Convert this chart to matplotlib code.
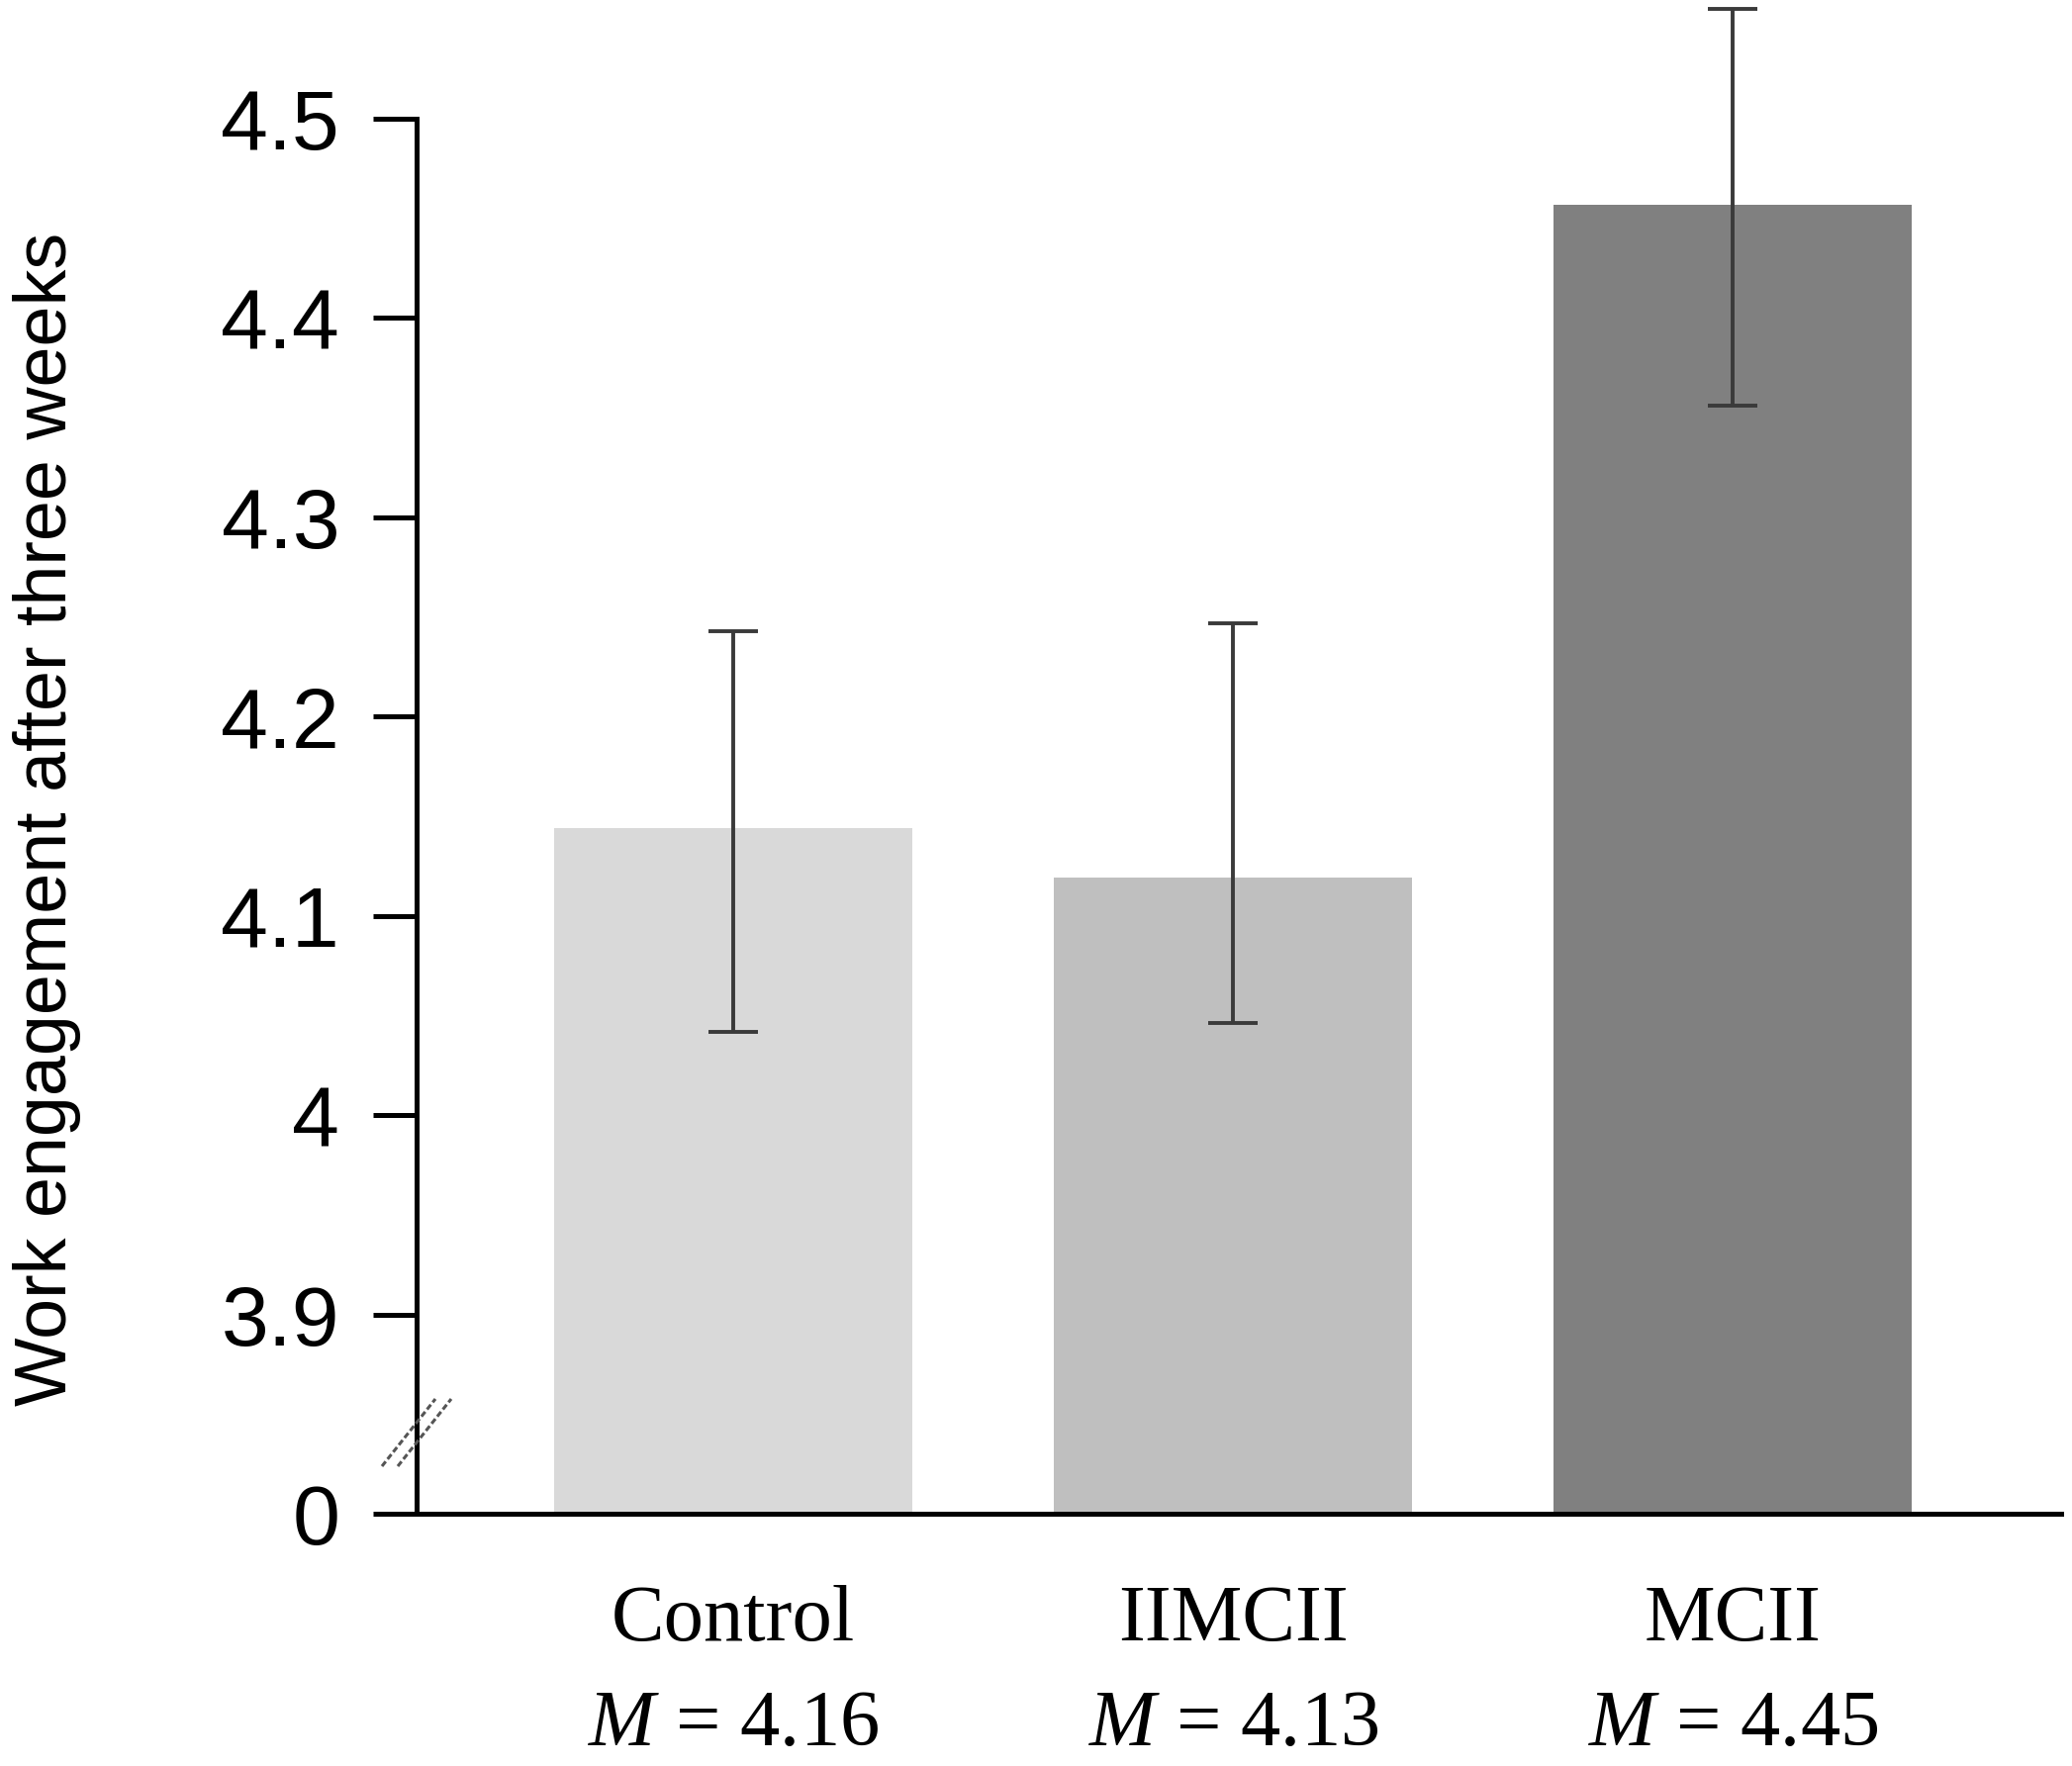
import matplotlib
matplotlib.use('Agg')
import matplotlib.pyplot as plt
import numpy as np

# data
groups = ['Control', 'IIMCII', 'MCII']
mean_labels = ['4.16', '4.13', '4.45']
bar_heights = [4.144, 4.119, 4.457]
err_low = [4.042, 4.046, 4.356]
err_high = [4.243, 4.247, 4.555]
bar_colors = ['#d9d9d9', '#bfbfbf', '#808080']
ytick_vals = [3.8, 3.9, 4.0, 4.1, 4.2, 4.3, 4.4, 4.5]
ytick_labels = ['0', '3.9', '4', '4.1', '4.2', '4.3', '4.4', '4.5']

plt.rcParams['mathtext.fontset'] = 'custom'
plt.rcParams['mathtext.rm'] = 'Liberation Serif'
plt.rcParams['mathtext.it'] = 'Liberation Serif:italic'

sans = ['Liberation Sans', 'DejaVu Sans']
serif = ['Liberation Serif', 'DejaVu Serif']

W, H = 2094, 1785
fig = plt.figure(figsize=(W / 100, H / 100), dpi=100)
left, right, top, bottom = 421, 2083, 120, 1530
ax = fig.add_axes([left / W, 1 - bottom / H, (right - left) / W, (bottom - top) / H])

x = np.arange(len(groups))
heights = np.array(bar_heights)
lo = np.array(err_low)
hi = np.array(err_high)

ax.bar(x, heights - 3.8, bottom=3.8, width=0.717, color=bar_colors, edgecolor='none', zorder=2)
ax.errorbar(x, heights, yerr=[heights - lo, hi - heights], fmt='none', ecolor='#3a3a3a',
            elinewidth=2.8, capsize=18, capthick=2.8, zorder=3, clip_on=False)

ax.set_xlim(-0.634, 2.657)
ax.set_ylim(3.8, 4.5)

for s in ['top', 'right']:
    ax.spines[s].set_visible(False)
for s in ['left', 'bottom']:
    ax.spines[s].set_linewidth(3.6)
    ax.spines[s].set_color('black')

ax.set_yticks(ytick_vals)
ax.set_yticklabels(ytick_labels, family=sans, fontsize=62)
ax.tick_params(axis='y', direction='out', length=32, width=3.6, pad=24)
ax.set_xticks(x)
ax.set_xticklabels(groups, family=serif, fontsize=58)
ax.tick_params(axis='x', length=0, pad=52)

for xi, m in zip(x, mean_labels):
    ax.text(xi, -0.152, '$M$ = ' + m, transform=ax.get_xaxis_transform(),
            ha='center', va='center', fontsize=58, family=serif)

fig.text(48 / W, 1 - 828 / H, 'Work engagement after three weeks', rotation=90,
         ha='center', va='center', family=sans, fontsize=53)

# axis break marks
trans = ax.transAxes
dx = 1 / (right - left)
dy = 1 / (bottom - top)
yb = (bottom - 1448) * dy
for off in [-8, 8]:
    ax.plot([(off - 27) * dx, (off + 27) * dx], [yb - 34 * dy, yb + 34 * dy],
            transform=trans, color='#555555', lw=2.2, ls=(0, (2, 1)), clip_on=False, zorder=4)

fig.savefig('out.png', dpi=100)
